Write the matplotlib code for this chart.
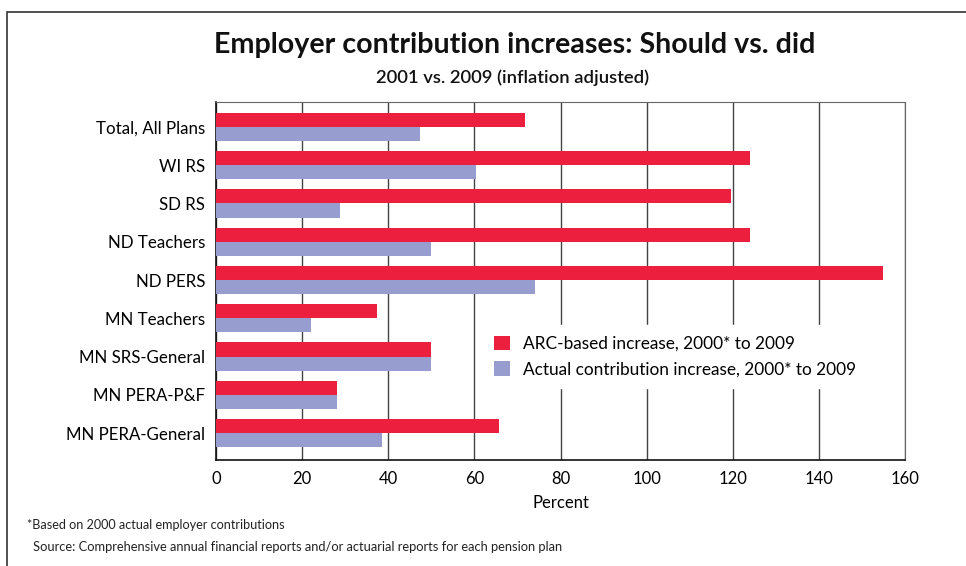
import matplotlib.pyplot as plt
from matplotlib.patches import Rectangle

plans = ['Total, All Plans', 'WI RS', 'SD RS', 'ND Teachers', 'ND PERS',
         'MN Teachers', 'MN SRS-General', 'MN PERA-P&F', 'MN PERA-General']
arc_increase = [71.7, 123.9, 119.7, 123.9, 154.8, 37.3, 50.0, 28.2, 65.7]
actual_increase = [47.3, 60.3, 28.8, 50.0, 74.0, 22.0, 50.0, 28.2, 38.5]
x_ticks = [0, 20, 40, 60, 80, 100, 120, 140, 160]

RED = '#ED1F3E'
LAVENDER = '#979DCF'

plt.rcParams['font.family'] = ['Lato', 'DejaVu Sans']

fig = plt.figure(figsize=(9.66, 5.66), dpi=100)
ax = fig.add_axes([216 / 966, 1 - 460 / 566, (905 - 216) / 966, (460 - 102) / 566])

# outer frame (only top and left edges visible)
fig.patches.append(Rectangle((7 / 966, -0.1), 1.2, 1 - 12 / 566 + 0.1,
                             transform=fig.transFigure, fill=False,
                             edgecolor='#333333', linewidth=1.2))

y = list(range(len(plans)))
h = 0.37
ax.barh([v - h / 2 for v in y], arc_increase, height=h, color=RED,
        label='ARC-based increase, 2000* to 2009', zorder=3)
ax.barh([v + h / 2 for v in y], actual_increase, height=h, color=LAVENDER,
        label='Actual contribution increase, 2000* to 2009', zorder=3)

ax.set_ylim(len(plans) - 1 + 0.7, -0.65)
ax.set_xlim(0, 160)
ax.set_xticks(x_ticks)
ax.set_yticks(y)
ax.set_yticklabels(plans, fontsize=12.2)
ax.tick_params(axis='x', labelsize=12, length=0, pad=8)
ax.tick_params(axis='y', length=0, pad=8)
ax.grid(axis='x', color='#444444', linewidth=1.0, zorder=1)
ax.set_axisbelow(True)
for side in ['top', 'right']:
    ax.spines[side].set_color('#666666')
for side in ['left', 'bottom']:
    ax.spines[side].set_color('#111111')
    ax.spines[side].set_linewidth(1.2)
ax.set_xlabel('Percent', fontsize=12, labelpad=6)

leg = ax.legend(loc='upper left', bbox_to_anchor=(0.376, 0.40), fontsize=12.4,
                frameon=True, fancybox=False, edgecolor='white', facecolor='white',
                framealpha=1, handlelength=0.9, handleheight=0.9,
                handletextpad=0.8, labelspacing=0.55, borderpad=0.6)
leg.set_zorder(5)

fig.text(515 / 966, 1 - 45 / 566, 'Employer contribution increases: Should vs. did',
         ha='center', va='center', fontsize=20.6, fontweight='bold', color='#111111')
fig.text(513 / 966, 1 - 78 / 566, '2001 vs. 2009 (inflation adjusted)',
         ha='center', va='center', fontsize=13.3, fontweight='semibold', color='#111111')
fig.text(27 / 966, 1 - 525 / 566, '*Based on 2000 actual employer contributions',
         ha='left', va='center', fontsize=9.1, color='#222222')
fig.text(33 / 966, 1 - 547 / 566,
         'Source: Comprehensive annual financial reports and/or actuarial reports for each pension plan',
         ha='left', va='center', fontsize=9.3, color='#222222')

fig.savefig('out.png', dpi=100)
